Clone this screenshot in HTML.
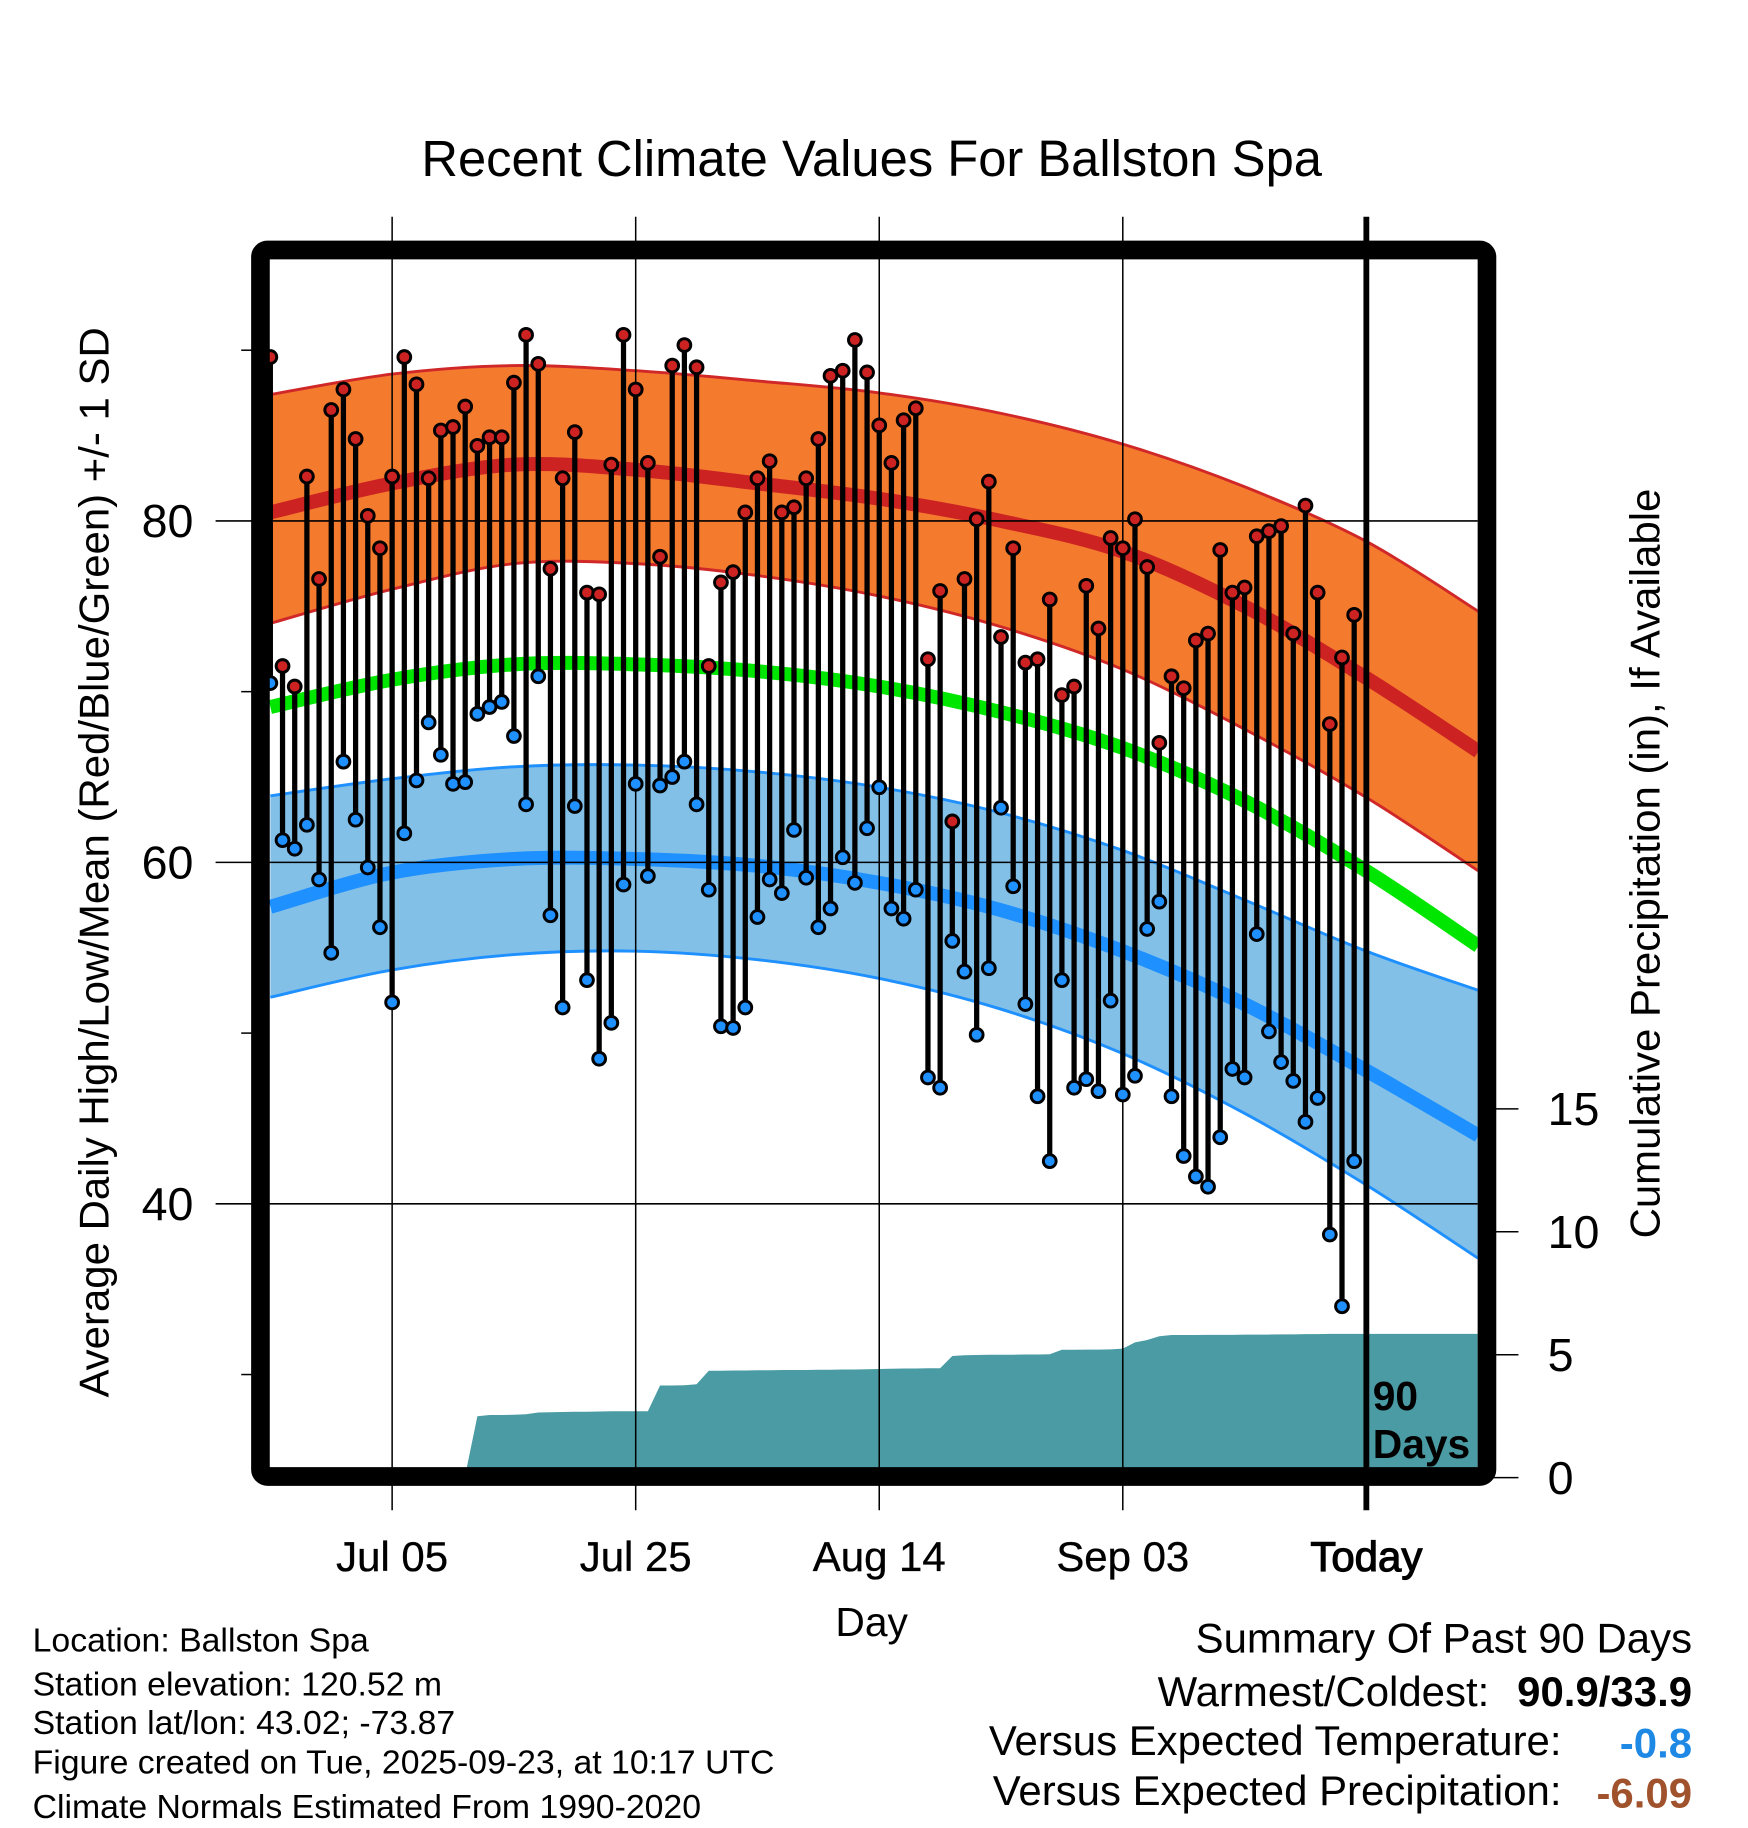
<!DOCTYPE html>
<html><head><meta charset="utf-8"><style>
html,body{margin:0;padding:0;background:#fff;}
svg{display:block;font-family:"Liberation Sans",Arial,sans-serif;}
</style></head><body>
<svg id="chart" width="1748" height="1828" viewBox="0 0 1500 1568.6" xmlns="http://www.w3.org/2000/svg">
<rect x="0" y="0" width="1500" height="1568.6" fill="#fff"/>
<defs><clipPath id="plotclip"><rect x="231" y="222" width="1037" height="1038"/></clipPath></defs>
<g id="plot" clip-path="url(#plotclip)"></g>
<g id="overlay"></g>
<text x="748" y="151" font-size="43.5" text-anchor="middle">Recent Climate Values For Ballston Spa</text>
<text transform="translate(93,740) rotate(-90)" font-size="36" text-anchor="middle">Average Daily High/Low/Mean (Red/Blue/Green) +/- 1 SD</text>
<text transform="translate(1424,741) rotate(-90)" font-size="36" text-anchor="middle">Cumulative Precipitation (in), If Available</text>
<text x="748" y="1404" font-size="35" text-anchor="middle">Day</text>
<text x="1178" y="1210" font-size="35" font-weight="bold">90</text>
<text x="1178" y="1251" font-size="35" font-weight="bold">Days</text>
<g font-size="29">
<text x="28" y="1417">Location: Ballston Spa</text>
<text x="28" y="1455">Station elevation: 120.52 m</text>
<text x="28" y="1488">Station lat/lon: 43.02; -73.87</text>
<text x="28" y="1522">Figure created on Tue, 2025-09-23, at 10:17 UTC</text>
<text x="28" y="1560">Climate Normals Estimated From 1990-2020</text>
</g>
<g font-size="36">
<text x="1452" y="1418" text-anchor="end">Summary Of Past 90 Days</text>
<text x="1278" y="1464" text-anchor="end">Warmest/Coldest:</text>
<text x="1452" y="1464" text-anchor="end" font-weight="bold">90.9/33.9</text>
<text x="1340" y="1506" text-anchor="end">Versus Expected Temperature:</text>
<text x="1452" y="1508" text-anchor="end" font-weight="bold" fill="#1E88E5">-0.8</text>
<text x="1340" y="1549" text-anchor="end">Versus Expected Precipitation:</text>
<text x="1452" y="1551" text-anchor="end" font-weight="bold" fill="#A0522D">-6.09</text>
</g>
</svg>
<script>
const highs=[89.6,71.5,70.3,82.6,76.6,86.5,87.7,84.8,80.3,78.4,82.6,89.6,88.0,82.5,85.3,85.5,86.7,84.4,84.9,84.9,88.1,90.9,89.2,77.2,82.5,85.2,75.8,75.7,83.3,90.9,87.7,83.4,77.9,89.1,90.3,89.0,71.5,76.4,77.0,80.5,82.5,83.5,80.5,80.8,82.5,84.8,88.5,88.8,90.6,88.7,85.6,83.4,85.9,86.6,71.9,75.9,62.4,76.6,80.1,82.3,73.2,78.4,71.7,71.9,75.4,69.8,70.3,76.2,73.7,79.0,78.4,80.1,77.3,67.0,70.9,70.2,73.0,73.4,78.3,75.8,76.1,79.1,79.4,79.7,73.4,80.9,75.8,68.1,72.0,74.5];
const lows=[70.5,61.3,60.8,62.2,59.0,54.7,65.9,62.5,59.7,56.2,51.8,61.7,64.8,68.2,66.3,64.6,64.7,68.7,69.1,69.4,67.4,63.4,70.9,56.9,51.5,63.3,53.1,48.5,50.6,58.7,64.6,59.2,64.5,65.0,65.9,63.4,58.4,50.4,50.3,51.5,56.8,59.0,58.2,61.9,59.1,56.2,57.3,60.3,58.8,62.0,64.4,57.3,56.7,58.4,47.4,46.8,55.4,53.6,49.9,53.8,63.2,58.6,51.7,46.3,42.5,53.1,46.8,47.3,46.6,51.9,46.4,47.5,56.1,57.7,46.3,42.8,41.6,41.0,43.9,47.9,47.4,55.8,50.1,48.3,47.2,44.8,46.2,38.2,34.0,42.5];
const precip=[0,0,0,0,0,0,0,0,0.1,0.1,0.1,0.1,0.1,0.1,0.1,0.1,0.1,2.5,2.55,2.55,2.56,2.58,2.65,2.66,2.67,2.68,2.68,2.69,2.7,2.7,2.7,2.7,3.75,3.75,3.76,3.8,4.35,4.35,4.36,4.36,4.37,4.37,4.38,4.38,4.38,4.39,4.39,4.4,4.4,4.41,4.42,4.43,4.44,4.44,4.45,4.45,4.95,4.98,4.99,5.0,5.0,5.0,5.01,5.01,5.02,5.2,5.2,5.21,5.21,5.22,5.25,5.5,5.6,5.75,5.8,5.8,5.8,5.81,5.81,5.81,5.82,5.82,5.82,5.83,5.83,5.84,5.84,5.85,5.85,5.85];
const normDays=[0,10,20,30,40,50,60,70,80,90,99.2];
const hiUpper=[87.4,88.6,89.1,88.8,88.2,87.5,86.3,84.5,82.0,78.8,74.7];
const hiMean=[80.5,82.2,83.3,83.0,82.2,81.3,80.0,78.2,75.0,70.8,66.5];
const hiLower=[74.0,76.0,77.5,77.5,76.8,75.6,73.8,71.3,67.8,63.8,59.5];
const meanT=[69.1,70.7,71.6,71.6,71.2,70.3,68.8,66.7,63.6,59.5,55.1];
const loUpper=[63.9,64.9,65.6,65.7,65.3,64.4,62.9,60.7,57.8,54.8,52.5];
const loMean=[57.4,59.4,60.2,60.2,59.8,58.8,57.2,54.8,51.7,47.8,44.0];
const loLower=[52.1,53.7,54.6,54.8,54.3,53.2,51.4,48.8,45.3,41.1,36.8];
const xTickLabels=["Jul 05","Jul 25","Aug 14","Sep 03","Today"];
const xTickDays=[10,30,50,70,90];
const yTickLabels=[40,60,80];
const yMinor=[30,50,70,90];
const pTicks=[0,5,10,15];

const NS="http://www.w3.org/2000/svg";
const X=d=>232+10.45*d;
const Y=t=>447+(80-t)*14.65;
const P=v=>1268-v*21.1;
const plot=document.getElementById('plot');
const ov=document.getElementById('overlay');
function mk(tag,attrs,parent){const e=document.createElementNS(NS,tag);for(const k in attrs)e.setAttribute(k,attrs[k]);(parent||plot).appendChild(e);return e;}
function seg(pts,start){
  let s=start?"M"+pts[0][0]+","+pts[0][1]:" L"+pts[0][0]+","+pts[0][1];
  for(let i=0;i<pts.length-1;i++){
    const p0=pts[Math.max(0,i-1)],p1=pts[i],p2=pts[i+1],p3=pts[Math.min(pts.length-1,i+2)];
    const c1=[p1[0]+(p2[0]-p0[0])/6,p1[1]+(p2[1]-p0[1])/6];
    const c2=[p2[0]-(p3[0]-p1[0])/6,p2[1]-(p3[1]-p1[1])/6];
    s+=" C"+c1[0]+","+c1[1]+" "+c2[0]+","+c2[1]+" "+p2[0]+","+p2[1];
  }
  return s;
}
function smooth(vals){return seg(normDays.map((d,i)=>[X(d),Y(vals[i])]),true);}
function band(up,lo){
  const rev=normDays.map((d,i)=>[X(d),Y(lo[i])]).reverse();
  return smooth(up)+seg(rev,false)+" Z";
}
let pd="M"+X(0)+","+P(0);
precip.forEach((v,i)=>{pd+=" L"+X(i)+","+P(v);});
pd+=" L1270,"+P(precip[precip.length-1])+" L1270,"+P(0)+" Z";
let e=mk('path',{d:pd,fill:'#4A9BA4'});


e=mk('path',{d:band(hiUpper,hiLower),fill:'#F47A2E'});


e=mk('path',{d:smooth(hiUpper),fill:'none',stroke:'#D02828','stroke-width':2.5});


e=mk('path',{d:smooth(hiLower),fill:'none',stroke:'#D02828','stroke-width':2.5});


e=mk('path',{d:smooth(hiMean),fill:'none',stroke:'#CC2222','stroke-width':12});


e=mk('path',{d:band(loUpper,loLower),fill:'#82C0E8'});


e=mk('path',{d:smooth(loUpper),fill:'none',stroke:'#1E90FF','stroke-width':2.5});


e=mk('path',{d:smooth(loLower),fill:'none',stroke:'#1E90FF','stroke-width':2.5});


e=mk('path',{d:smooth(loMean),fill:'none',stroke:'#1E90FF','stroke-width':12});


e=mk('path',{d:smooth(meanT),fill:'none',stroke:'#00E600','stroke-width':12});


yTickLabels.forEach(t=>{e=mk('line',{x1:185,x2:1268,y1:Y(t),y2:Y(t),stroke:'#000','stroke-width':1.3},ov);


e=mk('text',{x:166,y:Y(t)+14,'font-size':40,'text-anchor':'end'},ov);e.textContent=t;

});
yMinor.forEach(t=>{e=mk('line',{x1:207,x2:220,y1:Y(t),y2:Y(t),stroke:'#000','stroke-width':1.3},ov);

});
xTickDays.forEach((d,i)=>{const last=i===xTickDays.length-1;
e=mk('line',{x1:X(d),x2:X(d),y1:186,y2:1296,stroke:'#000','stroke-width':last?5:1.3},ov);


e=mk('text',{x:X(d),y:1348,'font-size':36,'text-anchor':'middle',stroke:'#000','stroke-width':last?1:0.3},ov);e.textContent=xTickLabels[i];

});
pTicks.forEach(v=>{e=mk('line',{x1:1280,x2:1303,y1:P(v),y2:P(v),stroke:'#000','stroke-width':1.3},ov);


e=mk('text',{x:1328,y:P(v)+14,'font-size':40},ov);e.textContent=v;

});
highs.forEach((h,i)=>{const x=X(i);
e=mk('line',{x1:x,x2:x,y1:Y(h),y2:Y(lows[i]),stroke:'#000','stroke-width':4.5},ov);


e=mk('circle',{cx:x,cy:Y(lows[i]),r:5.5,fill:'#1E90FF',stroke:'#000','stroke-width':2.5},ov);


e=mk('circle',{cx:x,cy:Y(h),r:5.5,fill:'#CC2222',stroke:'#000','stroke-width':2.5},ov);

});
e=mk('rect',{x:223.5,y:214.5,width:1052.5,height:1052.5,rx:6,fill:'none',stroke:'#000','stroke-width':16},ov);


</script>
</body></html>
